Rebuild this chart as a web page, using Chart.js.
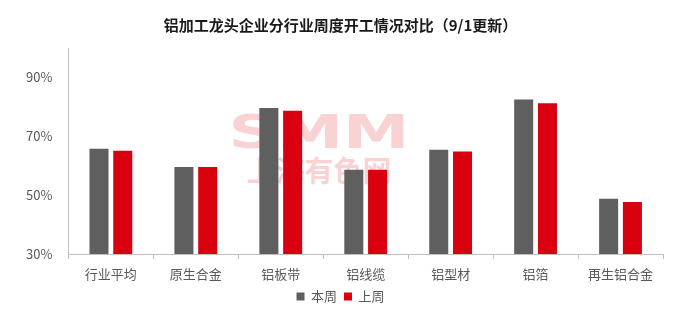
<!DOCTYPE html>
<html>
<head>
<meta charset="utf-8">
<script src="https://cdn.jsdelivr.net/npm/chart.js@4"></script>
<style>
  body { margin: 0; background: #fff; }
  #wrap { width: 685px; height: 317px; }
</style>
</head>
<body>
<div id="wrap"><canvas id="myChart"></canvas></div>
<script>
const ctx = document.getElementById('myChart');

// data
const categories = ['行业平均', '原生合金', '铝板带', '铝线缆', '铝型材', '铝箔', '再生铝合金'];
const thisWeek = [65.8, 59.6, 79.6, 58.6, 65.4, 82.5, 48.8];
const lastWeek = [65.1, 59.6, 78.7, 58.6, 64.8, 81.2, 47.7];
const yTicks = [30, 50, 70, 90];

Chart.defaults.font.family = '"Noto Sans CJK SC", "Noto Sans", sans-serif';
Chart.defaults.font.size = 13;
Chart.defaults.color = '#595959';

// faint watermark behind the bars
const watermark = {
  id: 'watermark',
  beforeDatasetsDraw(chart) {
    const c = chart.ctx;
    c.save();
    c.fillStyle = 'rgba(238, 120, 120, 0.33)';
    c.textAlign = 'center';
    c.textBaseline = 'middle';
    c.translate(319, 136);
    c.scale(1.45, 1);
    c.font = 'bold 46px "DejaVu Sans", sans-serif';
    c.fillText('SMM', 0, 0);
    c.restore();
    c.save();
    c.fillStyle = 'rgba(238, 120, 120, 0.33)';
    c.textAlign = 'center';
    c.textBaseline = 'middle';
    c.font = 'bold 29px "Noto Sans CJK SC", sans-serif';
    c.fillText('上海有色网', 319, 171);
    c.restore();
  }
};

new Chart(ctx, {
  type: 'bar',
  data: {
    labels: categories,
    datasets: [{
      label: '本周',
      data: thisWeek,
      backgroundColor: '#5f5f5f'
    }, {
      label: '上周',
      data: lastWeek,
      backgroundColor: '#d9000f'
    }]
  },
  plugins: [watermark],
  options: {
    responsive: true,
    maintainAspectRatio: false,
    animation: false,
    categoryPercentage: 0.56,
    barPercentage: 0.8,
    layout: { padding: { left: 18, right: 22, top: 0, bottom: 4 } },
    plugins: {
      title: {
        display: true,
        text: '铝加工龙头企业分行业周度开工情况对比（9/1更新）',
        color: '#1a1a1a',
        font: { size: 15, weight: 'bold' },
        padding: { top: 16, bottom: 14 }
      },
      legend: {
        position: 'bottom',
        labels: {
          boxWidth: 8,
          boxHeight: 8,
          padding: 7,
          color: '#595959'
        }
      },
      tooltip: { enabled: false }
    },
    scales: {
      x: {
        grid: {
          display: true,
          drawOnChartArea: false,
          drawTicks: true,
          tickLength: 5,
          color: '#bfbfbf'
        },
        border: { color: '#bfbfbf' },
        ticks: { padding: 7, font: { size: 13 } },
        afterFit(scale) { scale.height = 29; }
      },
      y: {
        min: 30,
        max: 100,
        afterBuildTicks(axis) {
          axis.ticks = yTicks.map(v => ({ value: v }));
        },
        grid: { display: false },
        border: { color: '#bfbfbf' },
        ticks: {
          padding: 8,
          font: { size: 13 },
          callback: v => v + '%'
        }
      }
    }
  }
});
</script>
</body>
</html>
